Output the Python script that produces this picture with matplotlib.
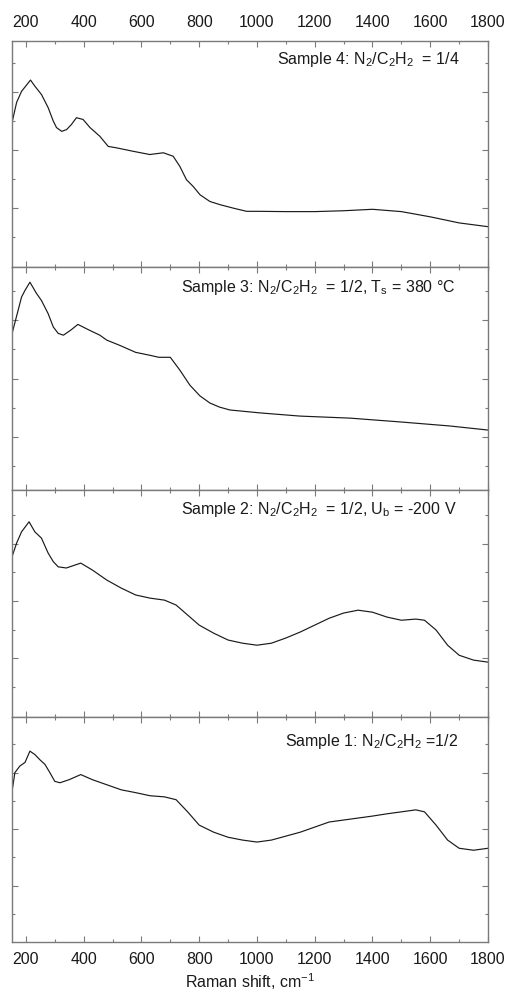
import numpy as np
import matplotlib
matplotlib.use("Agg")
import matplotlib.pyplot as plt
from matplotlib.ticker import MultipleLocator, FixedLocator

plt.rcParams['font.family'] = ['Liberation Sans', 'DejaVu Sans']
plt.rcParams['mathtext.fontset'] = 'custom'
plt.rcParams['mathtext.rm'] = 'Liberation Sans'
plt.rcParams['mathtext.it'] = 'Liberation Sans:italic'

# Raman spectra (arbitrary intensity units)
x4 = [152, 168, 185, 216, 231, 254, 277, 295, 306, 324, 341, 358, 375, 398, 422,
      456, 485, 514, 572, 629, 676, 710, 733, 756, 779, 803, 837, 872, 918, 964,
      1005, 1100, 1200, 1300, 1400, 1500, 1600, 1700, 1800]
y4 = [3.94, 4.64, 5.02, 5.41, 5.20, 4.91, 4.46, 3.99, 3.77, 3.64, 3.70, 3.88, 4.11, 4.05, 3.77,
      3.47, 3.12, 3.07, 2.95, 2.84, 2.90, 2.78, 2.43, 1.97, 1.74, 1.45, 1.22, 1.11, 0.99, 0.88,
      0.88, 0.87, 0.87, 0.90, 0.95, 0.87, 0.69, 0.48, 0.35]

x3 = [152, 173, 185, 197, 214, 237, 254, 277, 295, 312, 330, 355, 380, 420, 456,
      480, 525, 580, 629, 660, 700, 733, 768, 803, 837, 870, 906, 1010, 1149, 1322,
      1495, 1668, 1800]
y3 = [4.54, 5.34, 5.80, 6.03, 6.31, 5.92, 5.68, 5.23, 4.77, 4.55, 4.49, 4.66, 4.86, 4.66, 4.49,
      4.32, 4.14, 3.90, 3.80, 3.73, 3.73, 3.29, 2.77, 2.40, 2.16, 2.02, 1.92, 1.82, 1.71, 1.64,
      1.51, 1.37, 1.23]

x2 = [152, 168, 185, 211, 231, 254, 277, 295, 312, 340, 390, 430, 480, 530, 580,
      630, 680, 720, 760, 800, 850, 900, 950, 1000, 1050, 1100, 1150, 1200, 1250, 1300,
      1350, 1400, 1450, 1500, 1550, 1580, 1620, 1660, 1700, 1750, 1800]
y2 = [4.54, 5.02, 5.41, 5.76, 5.41, 5.19, 4.67, 4.37, 4.19, 4.15, 4.32, 4.08, 3.73, 3.45, 3.21,
      3.10, 3.03, 2.86, 2.51, 2.16, 1.88, 1.64, 1.53, 1.46, 1.53, 1.71, 1.92, 2.16, 2.40, 2.58,
      2.68, 2.61, 2.44, 2.33, 2.37, 2.33, 1.99, 1.46, 1.11, 0.94, 0.87]

x1 = [152, 162, 179, 197, 214, 231, 248, 266, 283, 300, 318, 350, 390, 430, 480,
      530, 580, 630, 680, 720, 760, 800, 850, 900, 950, 1000, 1050, 1100, 1150, 1200,
      1250, 1300, 1350, 1400, 1450, 1500, 1550, 1580, 1620, 1660, 1700, 1750, 1800]
y1 = [4.33, 5.00, 5.23, 5.36, 5.76, 5.64, 5.46, 5.29, 5.00, 4.69, 4.64, 4.75, 4.93, 4.75, 4.57,
      4.39, 4.29, 4.18, 4.14, 4.04, 3.61, 3.14, 2.89, 2.71, 2.61, 2.54, 2.61, 2.75, 2.89, 3.07,
      3.25, 3.32, 3.39, 3.46, 3.54, 3.61, 3.68, 3.61, 3.14, 2.61, 2.32, 2.25, 2.32]

labels = [
    r"Sample 4: N$_2$/C$_2$H$_2$  = 1/4",
    r"Sample 3: N$_2$/C$_2$H$_2$  = 1/2, T$_\mathrm{s}$ = 380 °C",
    r"Sample 2: N$_2$/C$_2$H$_2$  = 1/2, U$_\mathrm{b}$ = -200 V",
    r"Sample 1: N$_2$/C$_2$H$_2$ =1/2",
]
spectra = [(x4, y4), (x3, y3), (x2, y2), (x1, y1)]

# panel boxes [left, bottom, width, height] and y-limits
boxes = [[0.0237, 0.7325, 0.9389, 0.2265],
         [0.0237, 0.5090, 0.9389, 0.2234],
         [0.0237, 0.2816, 0.9389, 0.2275],
         [0.0237, 0.0561, 0.9389, 0.2255]]
ylims = [(-1.04, 6.76), (-0.83, 6.83), (-1.04, 6.87), (-1.0, 6.97)]
text_pos = [(0.941, 0.916), (0.931, 0.91), (0.935, 0.912), (0.937, 0.893)]

fig = plt.figure(figsize=(5.07, 9.98), dpi=100)
spine_col = '#7a7a7a'
fs = 11.5

for i in range(4):
    ax = fig.add_axes(boxes[i])
    xs, ys = spectra[i]
    ax.plot(xs, ys, color='#1a1a1a', lw=0.85)
    ax.set_xlim(152, 1800)
    ax.set_ylim(*ylims[i])
    ax.xaxis.set_major_locator(MultipleLocator(200))
    ax.xaxis.set_minor_locator(MultipleLocator(100))
    ax.yaxis.set_major_locator(FixedLocator([1, 3, 5]))
    ax.yaxis.set_minor_locator(FixedLocator([0, 2, 4, 6]))
    ax.tick_params(which='both', direction='in', top=True, right=True,
                   width=0.8, labelsize=fs, labelcolor='#1a1a1a', color=spine_col)
    ax.tick_params(which='major', length=4.5)
    ax.tick_params(which='minor', length=2.5)
    ax.set_yticklabels([])
    if i == 0:
        ax.tick_params(axis='x', labeltop=True, labelbottom=False, pad=8)
    elif i == 3:
        ax.tick_params(axis='x', labelbottom=True, pad=7)
        ax.set_xlabel(r"Raman shift, cm$^{-1}$", fontsize=fs, labelpad=3, color='#1a1a1a')
    else:
        ax.tick_params(axis='x', labelbottom=False)
    for s in ax.spines.values():
        s.set_color(spine_col)
        s.set_linewidth(1.0)
    ax.text(text_pos[i][0], text_pos[i][1], labels[i], transform=ax.transAxes,
            ha='right', va='center', fontsize=fs, color='#1a1a1a')

fig.savefig("out.png", dpi=100)
